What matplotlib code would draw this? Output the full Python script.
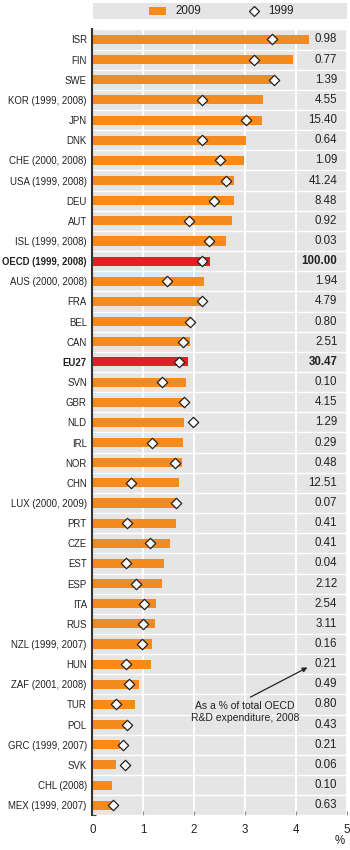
import matplotlib.pyplot as plt
import matplotlib.patches as mpatches
import numpy as np

plt.rcParams['font.family'] = ['Liberation Sans', 'DejaVu Sans']

labels = ["ISR", "FIN", "SWE", "KOR (1999, 2008)", "JPN", "DNK", "CHE (2000, 2008)",
          "USA (1999, 2008)", "DEU", "AUT", "ISL (1999, 2008)", "OECD (1999, 2008)",
          "AUS (2000, 2008)", "FRA", "BEL", "CAN", "EU27", "SVN", "GBR", "NLD", "IRL",
          "NOR", "CHN", "LUX (2000, 2009)", "PRT", "CZE", "EST", "ESP", "ITA", "RUS",
          "NZL (1999, 2007)", "HUN", "ZAF (2001, 2008)", "TUR", "POL", "GRC (1999, 2007)",
          "SVK", "CHL (2008)", "MEX (1999, 2007)"]
v2009 = [4.27, 3.95, 3.60, 3.35, 3.33, 3.02, 2.99, 2.78, 2.78, 2.74, 2.63, 2.32,
         2.20, 2.18, 1.95, 1.92, 1.89, 1.85, 1.83, 1.81, 1.78, 1.76, 1.70, 1.65,
         1.65, 1.52, 1.41, 1.37, 1.26, 1.24, 1.17, 1.15, 0.91, 0.84, 0.67, 0.55,
         0.47, 0.39, 0.39]
v1999 = [3.53, 3.18, 3.57, 2.16, 3.02, 2.16, 2.52, 2.63, 2.39, 1.90, 2.29, 2.16,
         1.46, 2.15, 1.92, 1.78, 1.71, 1.37, 1.81, 1.97, 1.18, 1.63, 0.75, 1.65,
         0.69, 1.14, 0.67, 0.86, 1.01, 0.99, 0.97, 0.66, 0.73, 0.46, 0.68, 0.60,
         0.65, np.nan, 0.40]
share = ["0.98", "0.77", "1.39", "4.55", "15.40", "0.64", "1.09", "41.24", "8.48",
         "0.92", "0.03", "100.00", "1.94", "4.79", "0.80", "2.51", "30.47", "0.10",
         "4.15", "1.29", "0.29", "0.48", "12.51", "0.07", "0.41", "0.41", "0.04",
         "2.12", "2.54", "3.11", "0.16", "0.21", "0.49", "0.80", "0.43", "0.21",
         "0.06", "0.10", "0.63"]
highlight = ["OECD (1999, 2008)", "EU27"]

orange = '#F58A1F'
red = '#E21F26'
grey = '#E5E5E5'
txt = '#222222'

fig = plt.figure(figsize=(3.5, 8.5), dpi=100)
ax = fig.add_axes([0.264, 0.0408, 0.726, 0.9246])
ax.set_facecolor(grey)

y = np.arange(len(labels))
colors = [red if l in highlight else orange for l in labels]
ax.barh(y, v2009, height=0.45, color=colors, zorder=3)
ax.scatter(v1999, y, marker='D', s=28, facecolor='white', edgecolor='#222222',
           linewidth=0.9, zorder=4)

# value column
for i, s in enumerate(share):
    ax.text(4.82, i, s, ha='right', va='center', fontsize=8.3, color=txt,
            fontweight='bold' if labels[i] in highlight else 'normal', zorder=5)

ax.set_xlim(0, 5)
ax.set_ylim(len(labels) - 0.5, -0.5)
ax.set_yticks(y)
ax.set_yticklabels(labels, fontsize=6.9, color=txt)
for lab in ax.get_yticklabels():
    if lab.get_text() in highlight:
        lab.set_fontweight('bold')
ax.tick_params(axis='y', length=0, pad=4)
ax.set_yticks(np.arange(len(labels) + 1) - 0.5, minor=True)
ax.tick_params(axis='y', which='minor', length=3, direction='in', color='#444444', width=0.8)
ax.set_xticks(np.arange(0, 6))
ax.tick_params(axis='x', length=3, direction='in', color='#888888', labelsize=8.3,
               labelcolor=txt, pad=6)

ax.grid(axis='x', color='white', linewidth=1.4, zorder=1)
for b in np.arange(len(labels) + 1) - 0.5:
    ax.axhline(b, color='white', linewidth=1.0, zorder=2)
ax.set_axisbelow(True)

for s in ['top', 'right', 'bottom']:
    ax.spines[s].set_visible(False)
ax.spines['left'].set_color('#333333')
ax.spines['left'].set_linewidth(1.5)
ax.spines['left'].set_zorder(6)

ax.annotate('', xy=(4.28, 31.1), xytext=(3.06, 32.7),
            arrowprops=dict(arrowstyle='-|>', color='#222222', lw=0.9,
                            mutation_scale=7), zorder=6)
ax.text(3.0, 32.85, 'As a % of total OECD\nR&D expenditure, 2008', ha='center',
        va='top', fontsize=7.5, color=txt, linespacing=1.15, zorder=6)

fig.text(340 / 350, 1 - 841 / 850, '%', ha='center', va='center', fontsize=8.3, color=txt)

# legend band
fig.patches.append(mpatches.Rectangle((92.5 / 350, 1 - 19 / 850), 254 / 350, 16.5 / 850,
                                      transform=fig.transFigure, facecolor=grey,
                                      edgecolor='none'))
fig.patches.append(mpatches.Rectangle((149 / 350, 1 - 15 / 850), 17 / 350, 8 / 850,
                                      transform=fig.transFigure, facecolor=orange,
                                      edgecolor='none'))
fig.text(175 / 350, 1 - 11 / 850, '2009', ha='left', va='center', fontsize=8.3, color=txt)
fig.lines.append(plt.Line2D([254 / 350], [1 - 11 / 850], marker='D', markersize=5.5,
                            markerfacecolor='white', markeredgecolor='#222222',
                            markeredgewidth=0.9, transform=fig.transFigure))
fig.text(268 / 350, 1 - 11 / 850, '1999', ha='left', va='center', fontsize=8.3, color=txt)

fig.savefig('out.png', dpi=100)
